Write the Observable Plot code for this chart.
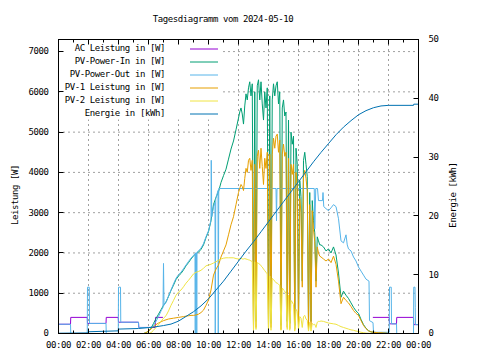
<!DOCTYPE html>
<html><head><meta charset="utf-8">
<script src="https://cdn.jsdelivr.net/npm/d3@7"></script>
<script src="https://cdn.jsdelivr.net/npm/@observablehq/plot@0.6"></script>
<style>body{margin:0;background:#fff}</style>
</head><body><div id="chart"></div>
<script>
// ---------- DATA ----------
const title = "Tagesdiagramm vom 2024-05-10";
const seriesNames = ["AC Leistung in [W]", "PV-Power-In in [W]", "PV-Power-Out in [W]", "PV-1 Leistung in [W]", "PV-2 Leistung in [W]", "Energie in [kWh]"];
const yTicks = [0, 1000, 2000, 3000, 4000, 5000, 6000, 7000];
const y2Ticks = [0, 10, 20, 30, 40, 50];
const xTickHours = [0, 2, 4, 6, 8, 10, 12, 14, 16, 18, 20, 22, 24];

// PV-In, PV-1, PV-2 share one time grid
const pvTime = [
 "05:40","05:50","06:00","06:10","06:20","06:30","06:40","06:50","07:00","07:10","07:20","07:30","07:40","07:50",
 "08:00","08:10","08:20","08:30","08:40","08:50","09:00","09:10","09:20","09:30","09:40","09:50",
 "10:00","10:10","10:20","10:30","10:40","10:50","11:00","11:10","11:20","11:30","11:40","11:50",
 "12:00","12:05","12:10","12:15","12:20","12:25","12:30","12:35","12:40","12:45","12:50","12:55",
 "13:00","13:05","13:10","13:15","13:20","13:25","13:30","13:35","13:40","13:45","13:50","13:55",
 "14:00","14:05","14:10","14:15","14:20","14:25","14:30","14:35","14:40","14:45","14:50","14:55",
 "15:00","15:05","15:10","15:15","15:20","15:25","15:30","15:35","15:40","15:45","15:50","15:55",
 "16:00","16:05","16:10","16:15","16:20","16:25","16:30","16:35","16:40","16:45","16:50","16:55",
 "17:00","17:05","17:10","17:15","17:20","17:25",
 "17:30","17:40","17:50","18:00","18:10","18:20","18:30","18:40","18:50","19:00","19:10","19:20","19:30","19:40","19:50",
 "20:00","20:10","20:20","20:30","20:40","20:50","21:00","21:10","21:20","21:30","21:40","21:50","22:00"
];
const pvInW = [
 0,20,60,130,250,370,480,590,700,780,920,1070,1200,1340,
 1430,1490,1580,1680,1760,1850,1930,1980,2020,2090,2200,2380,
 2530,2800,3200,3380,3520,3750,3920,4080,4330,4580,4780,5060,
 5350,5500,5600,5450,5200,5650,5950,5800,6100,6250,5900,6200,
 200,6000,300,6150,6300,5800,6250,5700,5300,6000,5600,6100,
 150,5900,250,5800,6200,5900,6150,6250,5700,6000,200,5600,
 5800,5400,5500,300,5300,250,5000,4700,4900,200,4600,4200,
 300,3800,3400,1300,4300,4500,4200,3900,200,3500,300,3300,
 2800,2500,1300,2400,2300,2200,
 2200,2150,2050,2100,2000,2150,1950,1500,900,1050,950,870,760,650,560,
 500,350,220,130,70,40,30,25,20,20,15,10,0
];
const pv1W = [
 0,20,60,110,170,220,260,290,320,340,360,370,380,390,
 400,410,420,430,440,450,450,460,480,520,580,700,
 830,1080,1450,1600,1700,1900,2050,2200,2450,2700,2900,3200,
 3500,3600,3700,3650,3550,3850,4100,4000,4300,4350,4050,4300,
 100,4200,150,4400,4550,4100,4600,4150,3700,4350,4100,4500,
 80,4450,150,4450,4850,4600,4900,4950,4500,4800,100,4450,
 4700,4400,4500,150,4350,120,4200,3950,4200,100,4000,3650,
 150,3350,3000,1150,3900,4050,3850,3550,100,3200,150,3050,
 2580,2280,1150,2150,2000,1920,
 1900,1850,1800,1850,1760,1920,1720,1300,740,900,820,760,670,570,500,
 450,320,200,120,65,40,30,25,20,20,15,10,0
];
const pv2W = [
 0,0,0,20,80,150,220,300,380,440,560,700,820,950,
 1030,1080,1160,1250,1320,1400,1480,1520,1540,1570,1620,1680,
 1700,1720,1750,1780,1820,1850,1870,1880,1880,1880,1880,1860,
 1850,1860,1870,1850,1850,1860,1850,1840,1830,1820,1800,1790,
 80,1780,100,1760,1740,1720,1680,1650,1600,1560,1520,1480,
 60,1430,80,1370,1340,1300,1260,1250,1220,1200,80,1130,
 1080,1050,1000,100,950,80,820,780,720,60,600,550,
 100,420,380,150,420,450,360,330,60,280,60,250,
 220,230,150,280,300,300,
 310,300,280,260,250,240,230,200,170,150,130,110,90,80,60,
 50,30,20,10,5,0,0,0,0,0,0,0,0
];

const outTime = [
 "00:00","00:48","00:49","01:55","01:56","02:03","02:04","03:10","03:11","03:59","04:00","04:08","04:09","05:20","05:21",
 "06:10","06:20","06:30","06:40","06:50","06:58","07:00","07:02","07:10","07:20","07:30","07:40","07:50",
 "08:00","08:10","08:20","08:30","08:40","08:50","09:00","09:06","09:07","09:08","09:12","09:13","09:14","09:20","09:30","09:40","09:50",
 "10:00","10:10","10:11","10:13","10:20","10:26","10:27","10:29","10:38","10:39","10:41",
 "14:30","14:32","14:34","17:03","17:05","17:09","17:16","17:20","17:30","17:36","17:38","17:41","17:50",
 "18:00","18:10","18:20","18:30","18:40","18:50","19:00","19:10","19:15","19:20","19:30","19:40","19:50",
 "20:00","20:10","20:20","20:30","20:42","20:44","20:58","21:00","22:03","22:04","22:11","22:12","22:32","22:33",
 "23:40","23:41","23:46","23:47","23:48","24:00"
];
const outW = [
 230,230,0,0,1150,1150,250,250,0,0,1150,1150,280,280,150,
 150,200,300,420,560,650,1740,700,780,930,1080,1230,1370,
 1460,1520,1610,1700,1790,1870,1940,1980,0,2000,2000,0,2020,2050,2120,2230,2400,
 2550,2820,4300,2900,3150,3250,0,3350,3550,0,3600,
 3600,2800,3600,3600,2600,3600,3600,3300,3300,3300,3500,3150,3100,
 3050,3120,3200,3150,2850,2300,2250,2450,2200,2100,2050,1900,1800,
 1650,1550,1450,1350,1300,320,270,30,30,1150,1150,240,240,0,
 0,1150,1150,650,220,220
];

const acTime = [
 "00:00","00:48","00:49","01:55","01:56","03:10","03:11","03:59","04:00","05:20","05:21","06:27","06:28","06:56",
 null,
 "20:59","22:03","22:04","22:32","22:33","23:40","23:41","24:00"
];
const acW = [
 230,230,400,400,250,250,400,400,280,280,150,150,400,400,
 null,
 400,400,240,240,400,400,220,220
];

const energyTime = [
 "00:00","01:59","02:00","03:59","04:00","05:20","06:00","06:30","07:00","07:30","08:00","08:30","09:00","09:30",
 "10:00","10:30","11:00","11:30","12:00","12:30","13:00","13:30","14:00","14:30","15:00","15:30","16:00","16:30",
 "17:00","17:30","18:00","18:30","19:00","19:30","20:00","20:30","21:00","21:30","22:00","23:40","23:41","24:00"
];
const energyKWh = [
 0.05,0.1,0.3,0.45,0.75,0.85,1.0,1.15,1.35,1.6,2.1,2.9,3.7,4.7,
 5.9,7.4,8.9,10.6,12.3,14.0,15.6,17.3,19.0,20.7,22.4,24.1,25.8,27.5,
 29.2,30.8,32.3,33.8,35.1,36.2,37.2,37.9,38.4,38.7,38.8,38.8,39.0,39.0
];

// ---------- HELPERS ----------
const colors = ["#9400d3", "#009e73", "#56b4e9", "#e69f00", "#f0e442", "#0072b2"];
const hours = t => { if (t == null) return NaN; const [h, m] = t.split(":").map(Number); return h + m / 60; };
const rows = (ts, vs) => ts.map((t, i) => ({h: hours(t), v: vs[i] == null ? NaN : vs[i]}));
const yMax = 7300, y2Max = 50, k2 = yMax / y2Max; // shared vertical scale for the energy axis

const acRows = rows(acTime, acW);
const inRows = rows(pvTime, pvInW);
const outRows = rows(outTime, outW);
const pv1Rows = rows(pvTime, pv1W);
const pv2Rows = rows(pvTime, pv2W);
const enRows = rows(energyTime, energyKWh).map(d => ({h: d.h, v: d.v * k2}));

const font = "DejaVu Sans Mono";
const fmtHour = h => String(h % 24).padStart(2, "0") + ":00";
const gridStyle = {stroke: "#a0a0a0", strokeOpacity: 1, strokeDasharray: "2,3", strokeWidth: 1};

const fig = Plot.plot({
  width: 480, height: 360,
  marginLeft: 58, marginRight: 62, marginTop: 39, marginBottom: 27,
  style: {fontFamily: font, fontSize: "9px", background: "white", color: "black", letterSpacing: "-0.4px"},
  x: {domain: [0, 24]},
  y: {domain: [0, yMax]},
  marks: [
    Plot.gridX(xTickHours.slice(1, -1), gridStyle),
    Plot.gridY(yTicks.slice(1), gridStyle),
    Plot.axisX(xTickHours, {tickSize: 0, tickPadding: 8, tickFormat: fmtHour, label: null}),
    Plot.axisY(yTicks, {tickSize: 0, tickPadding: 10, tickFormat: d => String(d), label: null}),
    Plot.axisY(y2Ticks.map(k => k * k2), {anchor: "right", tickSize: 0, tickPadding: 10, tickFormat: d => String(Math.round(d / k2)), label: null}),
    Plot.line(acRows, {x: "h", y: "v", stroke: colors[0], strokeWidth: 1}),
    Plot.line(inRows, {x: "h", y: "v", stroke: colors[1], strokeWidth: 1}),
    Plot.line(outRows, {x: "h", y: "v", stroke: colors[2], strokeWidth: 1}),
    Plot.line(pv1Rows, {x: "h", y: "v", stroke: colors[3], strokeWidth: 1}),
    Plot.line(pv2Rows, {x: "h", y: "v", stroke: colors[4], strokeWidth: 1}),
    Plot.line(enRows, {x: "h", y: "v", stroke: colors[5], strokeWidth: 1}),
    Plot.frame({stroke: "black", strokeWidth: 1})
  ]
});

// ---------- decorations drawn with the plot's own scales ----------
const svgSel = d3.select(fig);
const xScale = fig.scale("x"), yScale = fig.scale("y");
const X = v => xScale.apply(v), Y = v => yScale.apply(v);
const frameTop = Y(yMax), frameBot = Y(0), frameLeft = X(0), frameRight = X(24);

// opaque key box (covers the grid behind the legend)
svgSel.append("rect").attr("x", frameLeft + 2).attr("y", frameTop + 1.5).attr("width", 163).attr("height", 79).attr("fill", "white");

const tk = svgSel.append("g").attr("stroke", "black").attr("stroke-width", 1).attr("transform", "translate(0.5,0.5)");
for (let h = 0; h <= 24; h++) {
  const len = h % 2 ? 3 : 5, px = Math.round(X(h));
  tk.append("line").attr("x1", px).attr("x2", px).attr("y1", Math.round(frameBot)).attr("y2", Math.round(frameBot) - len);
  tk.append("line").attr("x1", px).attr("x2", px).attr("y1", Math.round(frameTop)).attr("y2", Math.round(frameTop) + len);
}
yTicks.forEach(v => {
  const py = Math.round(Y(v));
  tk.append("line").attr("x1", Math.round(frameLeft)).attr("x2", Math.round(frameLeft) + 5).attr("y1", py).attr("y2", py);
});
y2Ticks.forEach(k => {
  const py = Math.round(Y(k * k2));
  tk.append("line").attr("x1", Math.round(frameRight)).attr("x2", Math.round(frameRight) - 5).attr("y1", py).attr("y2", py);
});

const txt = svgSel.append("g").attr("font-family", font).attr("font-size", 9).attr("letter-spacing", "-0.4px").attr("fill", "black");
txt.append("text").attr("x", 223).attr("y", 22).attr("text-anchor", "middle").text(title);
txt.append("text").attr("transform", "translate(18,195) rotate(-90)").attr("text-anchor", "middle").text("Leistung [W]");
txt.append("text").attr("transform", "translate(456,195) rotate(-90)").attr("text-anchor", "middle").text("Energie [kWh]");

const lg = svgSel.append("g");
seriesNames.forEach((name, i) => {
  const yy = 50.5 + 13 * i;
  lg.append("text").attr("x", 165).attr("y", yy).attr("text-anchor", "end")
    .attr("font-family", font).attr("font-size", 9).attr("letter-spacing", "-0.4px").text(name);
  lg.append("line").attr("x1", 190).attr("x2", 218).attr("y1", yy - 1.5).attr("y2", yy - 1.5)
    .attr("stroke", colors[i]).attr("stroke-width", 1);
});

document.getElementById("chart").appendChild(fig);
</script>
</body></html>
